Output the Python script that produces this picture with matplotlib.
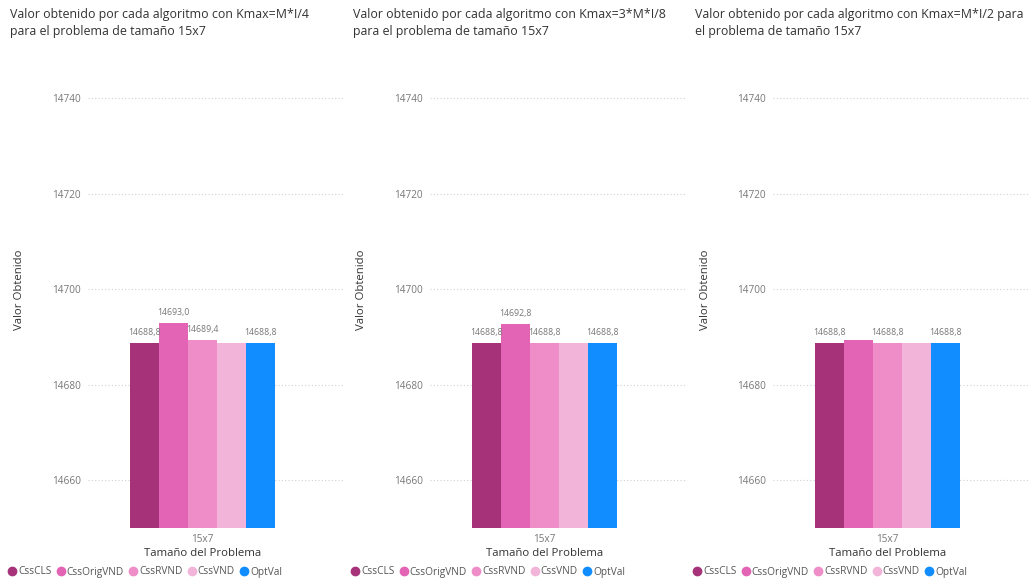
import matplotlib
matplotlib.use("Agg")
import matplotlib.pyplot as plt
from matplotlib.lines import Line2D
from matplotlib.transforms import blended_transform_factory

# ---- data ----
series = ["CssCLS", "CssOrigVND", "CssRVND", "CssVND", "OptVal"]
colors = ["#A63279", "#E363B4", "#EE8DC8", "#F3B4D9", "#118DFF"]
category = "15x7"
titles = [
    "Valor obtenido por cada algoritmo con Kmax=M*I/4\npara el problema de tamaño 15x7",
    "Valor obtenido por cada algoritmo con Kmax=3*M*I/8\npara el problema de tamaño 15x7",
    "Valor obtenido por cada algoritmo con Kmax=M*I/2 para\nel problema de tamaño 15x7",
]
values_k1 = [14688.8, 14693.0, 14689.4, 14688.8, 14688.8]
values_k2 = [14688.8, 14692.8, 14688.8, 14688.8, 14688.8]
values_k3 = [14688.8, 14689.4, 14688.8, 14688.8, 14688.8]
labels_shown_k1 = [True, True, True, False, True]
labels_shown_k2 = [True, True, True, False, True]
labels_shown_k3 = [True, False, True, False, True]
yticks = [14660, 14680, 14700, 14720, 14740]
ylim = (14650, 14748)
xlabel = "Tamaño del Problema"
ylabel = "Valor Obtenido"

panels = [(values_k1, labels_shown_k1), (values_k2, labels_shown_k2), (values_k3, labels_shown_k3)]

W, H = 1032, 582
fig = plt.figure(figsize=(W / 100, H / 100), dpi=100)
plt.rcParams['font.family'] = ['Open Sans', 'DejaVu Sans']

ax_left_px = [88, 430, 773]
ax_w_px = 255
ax_top_px, ax_bot_px = 60, 528
title_x_px = [10, 353, 695]

for i, (vals, shown) in enumerate(panels):
    ax = fig.add_axes([ax_left_px[i] / W, 1 - ax_bot_px / H, ax_w_px / W, (ax_bot_px - ax_top_px) / H])
    x = list(range(len(series)))
    ax.bar(x, [v - ylim[0] for v in vals], bottom=ylim[0], width=1.0, color=colors)
    for xi, v, s in zip(x, vals, shown):
        if s:
            ax.text(xi, v + 1.2, f"{v:.1f}".replace(".", ","), ha="center", va="bottom",
                    fontsize=6.3, color="#777777")
    ax.set_ylim(*ylim)
    ax.set_xlim(-1.95, 6.85)
    ax.set_yticks(yticks)
    ax.set_yticklabels([str(t) for t in yticks], fontsize=7.2, color="#777777")
    ax.set_xticks([2])
    ax.set_xticklabels([category], fontsize=7.2, color="#777777")
    ax.tick_params(axis="both", length=0, pad=5)
    ax.tick_params(axis="x", pad=4)
    for sp in ax.spines.values():
        sp.set_visible(False)
    ax.grid(axis="y", linestyle=(0, (1, 2)), color="#D0D0D0", linewidth=0.8)
    ax.set_axisbelow(True)
    trans = blended_transform_factory(ax.transData, fig.transFigure)
    ax.text(2, 1 - 553 / H, xlabel, transform=trans, ha="center", va="center",
            fontsize=8.2, color="#333333")
    fig.text((ax_left_px[i] - 68) / W, 1 - 290 / H, ylabel, rotation=90, ha="center", va="center",
             fontsize=8.2, color="#333333")
    fig.text(title_x_px[i] / W, 1 - 8 / H, titles[i], ha="left", va="top",
             fontsize=8.95, color="#333333", linespacing=1.35)
    handles = [Line2D([], [], marker="o", linestyle="none", markersize=6,
                      markerfacecolor=c, markeredgecolor=c) for c in colors]
    fig.legend(handles, series, loc="center left",
               bbox_to_anchor=((title_x_px[i] - 3) / W, 1 - 572 / H),
               ncol=5, frameon=False, fontsize=7.3, labelcolor="#555555",
               handletextpad=0.1, columnspacing=0.4, handlelength=1.0, borderaxespad=0,
               borderpad=0)

fig.savefig("out.png", dpi=100)
